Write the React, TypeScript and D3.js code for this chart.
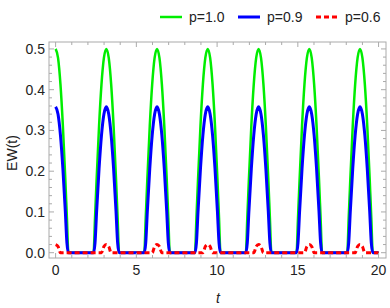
import React, { useEffect, useRef } from 'react';
import * as d3 from 'd3';

// time samples (hump centres near multiples of pi)
const tValues = [
  0, 0.15, 0.3, 0.45, 0.6, 0.7, 0.79,
  2.35, 2.44, 2.54, 2.69, 2.84, 2.99, 3.14, 3.29, 3.44, 3.59, 3.74, 3.84, 3.93,
  5.49, 5.58, 5.68, 5.83, 5.98, 6.13, 6.28, 6.43, 6.58, 6.73, 6.88, 6.98, 7.07,
  8.63, 8.72, 8.82, 8.97, 9.12, 9.27, 9.42, 9.57, 9.72, 9.87, 10.02, 10.12, 10.21,
  11.78, 11.87, 11.97, 12.12, 12.27, 12.42, 12.57, 12.72, 12.87, 13.02, 13.17, 13.27, 13.36,
  14.92, 15.01, 15.11, 15.26, 15.41, 15.56, 15.71, 15.86, 16.01, 16.16, 16.31, 16.41, 16.5,
  18.06, 18.15, 18.25, 18.4, 18.55, 18.7, 18.85, 19.0, 19.15, 19.3, 19.45, 19.55, 19.64,
  20,
];

const ewP10 = [
  0.5, 0.478, 0.413, 0.311, 0.181, 0.085, 0,
  0, 0.085, 0.181, 0.311, 0.413, 0.478, 0.5, 0.478, 0.413, 0.311, 0.181, 0.085, 0,
  0, 0.085, 0.181, 0.311, 0.413, 0.478, 0.5, 0.478, 0.413, 0.311, 0.181, 0.085, 0,
  0, 0.085, 0.181, 0.311, 0.413, 0.478, 0.5, 0.478, 0.413, 0.311, 0.181, 0.085, 0,
  0, 0.085, 0.181, 0.311, 0.413, 0.478, 0.5, 0.478, 0.413, 0.311, 0.181, 0.085, 0,
  0, 0.085, 0.181, 0.311, 0.413, 0.478, 0.5, 0.478, 0.413, 0.311, 0.181, 0.085, 0,
  0, 0.085, 0.181, 0.311, 0.413, 0.478, 0.5, 0.478, 0.413, 0.311, 0.181, 0.085, 0,
  0,
];

const ewP09 = [
  0.358, 0.34, 0.288, 0.206, 0.102, 0.024, 0,
  0, 0.024, 0.102, 0.206, 0.288, 0.34, 0.358, 0.34, 0.288, 0.206, 0.102, 0.024, 0,
  0, 0.024, 0.102, 0.206, 0.288, 0.34, 0.358, 0.34, 0.288, 0.206, 0.102, 0.024, 0,
  0, 0.024, 0.102, 0.206, 0.288, 0.34, 0.358, 0.34, 0.288, 0.206, 0.102, 0.024, 0,
  0, 0.024, 0.102, 0.206, 0.288, 0.34, 0.358, 0.34, 0.288, 0.206, 0.102, 0.024, 0,
  0, 0.024, 0.102, 0.206, 0.288, 0.34, 0.358, 0.34, 0.288, 0.206, 0.102, 0.024, 0,
  0, 0.024, 0.102, 0.206, 0.288, 0.34, 0.358, 0.34, 0.288, 0.206, 0.102, 0.024, 0,
  0,
];

const ewP06 = [
  0.02, 0.015, 0, 0, 0, 0, 0,
  0, 0, 0, 0, 0, 0.015, 0.02, 0.015, 0, 0, 0, 0, 0,
  0, 0, 0, 0, 0, 0.015, 0.02, 0.015, 0, 0, 0, 0, 0,
  0, 0, 0, 0, 0, 0.015, 0.02, 0.015, 0, 0, 0, 0, 0,
  0, 0, 0, 0, 0, 0.015, 0.02, 0.015, 0, 0, 0, 0, 0,
  0, 0, 0, 0, 0, 0.015, 0.02, 0.015, 0, 0, 0, 0, 0,
  0, 0, 0, 0, 0, 0.015, 0.02, 0.015, 0, 0, 0, 0, 0,
  0,
];

const seriesNames = ['p=1.0', 'p=0.9', 'p=0.6'];
const xTickLabels = ['0', '5', '10', '15', '20'];
const yTickLabels = ['0.0', '0.1', '0.2', '0.3', '0.4', '0.5'];

const Chart = () => {
  const ref = useRef(null);

  useEffect(() => {
    const svg = d3.select(ref.current);
    svg.selectAll('*').remove();

    const left = 49, right = 386, top = 42, bottom = 258;
    const frameColor = '#aaaaaa';
    const font = '"Liberation Sans", Arial, sans-serif';

    const x = d3.scaleLinear().domain([-0.41, 20.46]).range([left, right]);
    const y = d3.scaleLinear().domain([-0.013, 0.517]).range([bottom, top]);

    const series = [
      { name: seriesNames[0], values: ewP10, color: '#00ee00', width: 2.5, dash: null },
      { name: seriesNames[1], values: ewP09, color: '#0000ff', width: 3, dash: null },
      { name: seriesNames[2], values: ewP06, color: '#ff0000', width: 3, dash: '5,3' },
    ];

    const line = d3.line()
      .x(d => x(d[0]))
      .y(d => y(d[1]))
      .curve(d3.curveMonotoneX);

    const plot = svg.append('g');
    plot.append('defs').append('clipPath').attr('id', 'clip')
      .append('rect').attr('x', left).attr('y', top - 2)
      .attr('width', right - left).attr('height', bottom - top + 2);

    series.forEach(s => {
      plot.append('path')
        .datum(tValues.map((t, i) => [t, s.values[i]]))
        .attr('clip-path', 'url(#clip)')
        .attr('fill', 'none')
        .attr('stroke', s.color)
        .attr('stroke-width', s.width)
        .attr('stroke-dasharray', s.dash)
        .attr('stroke-linejoin', 'round')
        .attr('d', line);
    });

    // frame
    svg.append('rect')
      .attr('x', left).attr('y', top)
      .attr('width', right - left).attr('height', bottom - top)
      .attr('fill', 'none').attr('stroke', frameColor).attr('stroke-width', 1);

    const ticks = svg.append('g').attr('stroke', frameColor).attr('stroke-width', 1);
    const xMinor = d3.range(0, 21, 1);
    xMinor.forEach(v => {
      const len = v % 5 === 0 ? 5 : 3;
      ticks.append('line').attr('x1', x(v)).attr('x2', x(v)).attr('y1', bottom).attr('y2', bottom - len);
      ticks.append('line').attr('x1', x(v)).attr('x2', x(v)).attr('y1', top).attr('y2', top + len);
    });
    const yMinor = d3.range(0, 26).map(i => i * 0.02);
    yMinor.forEach((v, i) => {
      const len = i % 5 === 0 ? 5 : 3;
      ticks.append('line').attr('y1', y(v)).attr('y2', y(v)).attr('x1', left).attr('x2', left + len);
      ticks.append('line').attr('y1', y(v)).attr('y2', y(v)).attr('x1', right).attr('x2', right - len);
    });

    svg.append('g').selectAll('text').data(xTickLabels).enter().append('text')
      .attr('x', d => x(+d)).attr('y', 275)
      .attr('text-anchor', 'middle')
      .attr('font-family', font).attr('font-size', 14).attr('fill', '#222')
      .text(d => d);

    svg.append('g').selectAll('text').data(yTickLabels).enter().append('text')
      .attr('x', 45).attr('y', d => y(+d) + 5)
      .attr('text-anchor', 'end')
      .attr('font-family', font).attr('font-size', 14).attr('fill', '#222')
      .text(d => d);

    svg.append('text')
      .attr('transform', 'translate(17,153) rotate(-90)')
      .attr('text-anchor', 'middle')
      .attr('font-family', font).attr('font-size', 14).attr('fill', '#222')
      .text('EW(t)');

    svg.append('text')
      .attr('x', 218).attr('y', 303)
      .attr('text-anchor', 'middle')
      .attr('font-family', font).attr('font-size', 14).attr('font-style', 'italic').attr('fill', '#222')
      .text('t');

    // legend
    const legendX = [160, 238, 316];
    series.forEach((s, i) => {
      const g = svg.append('g').attr('transform', `translate(${legendX[i]},17)`);
      g.append('line').attr('x1', 0).attr('x2', 22).attr('y1', 0).attr('y2', 0)
        .attr('stroke', s.color).attr('stroke-width', s.width)
        .attr('stroke-dasharray', s.dash);
      g.append('text').attr('x', 29).attr('y', 5)
        .attr('font-family', font).attr('font-size', 14).attr('fill', '#222')
        .text(s.name);
    });
  }, []);

  return <svg ref={ref} width={390} height={308}></svg>;
};

export default function App() {
  return (
    <div style={{ position: 'absolute', left: 0, top: 0 }}>
      <Chart />
    </div>
  );
}
